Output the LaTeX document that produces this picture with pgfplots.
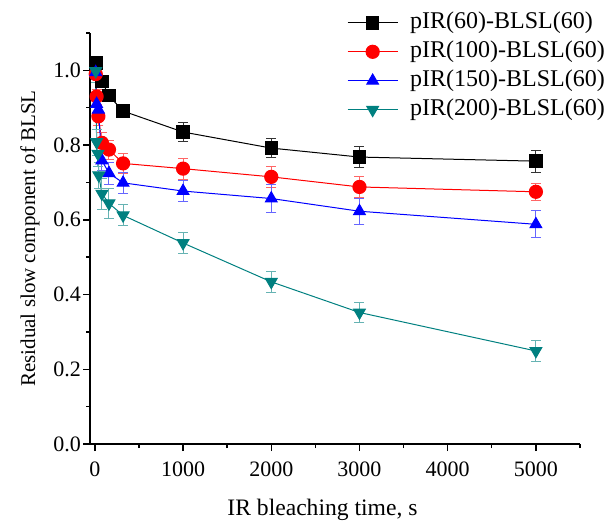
\documentclass[border=0pt]{standalone}
\usepackage{fontspec}
\setmainfont{Liberation Serif}
\usepackage{pgfplots}
\pgfplotsset{compat=1.18}
\definecolor{cteal}{RGB}{0,128,128}
\begin{document}
\begin{tikzpicture}
\begin{axis}[
  width=245pt, height=205.5pt, scale only axis,
  xmin=-55, xmax=5500, ymin=0, ymax=1.1,
  axis lines=left, axis line style={line width=0.8pt, -},
  xtick={0,1000,2000,3000,4000,5000},
  minor xtick={500,1500,2500,3500,4500,5500},
  ytick={0,0.2,0.4,0.6,0.8,1.0},
  minor ytick={0.1,0.3,0.5,0.7,0.9,1.1},
  tick align=outside,
  major tick length=3.5pt, minor tick length=2pt,
  tick style={line width=0.7pt, black},
  xticklabel style={/pgf/number format/1000 sep={}, yshift=-2pt},
  yticklabel style={/pgf/number format/fixed, /pgf/number format/fixed zerofill, /pgf/number format/precision=1, xshift=2.5pt},
  /pgf/number format/assume math mode=true,
  tick label style={font=\fontsize{11}{12}\selectfont},
  xlabel={IR bleaching time, s},
  ylabel={Residual slow component of BLSL},
  xlabel style={at={(axis description cs:0.4745,-0.1606)}, anchor=center, font=\fontsize{11.8}{13}\selectfont},
  ylabel style={at={(axis description cs:-0.1224,0.5)}, anchor=center, font=\fontsize{10.5}{12}\selectfont},
  legend style={at={(0.524,1.055)}, anchor=north west, draw=none, fill=none, inner sep=0pt,
    font=\fontsize{12}{13}\selectfont, row sep=2.5pt, column sep=6pt,
    nodes={inner sep=0pt, text height=9pt, text depth=3pt}},
  legend cell align=left,
  legend image code/.code={\draw[mark repeat=2, mark phase=2, #1] plot coordinates {(0pt,0pt) (12.5pt,0pt) (25pt,0pt)};},
  every axis plot/.append style={line width=0.5pt},
  error bars/error bar style={line width=0.5pt},
  error bars/error mark options={rotate=90, mark size=2.5pt, line width=0.5pt},
  clip=false,
]
\addplot[black, mark=square*, mark size=3.1pt, mark options={solid, fill=black},
  error bars/.cd, y dir=both, y explicit, error bar style={black!80}]
  table[x=t, y=v, y error=e] {
t v e
15 1.020 0.008
80 0.971 0.013
160 0.932 0.013
320 0.891 0.017
1000 0.835 0.025
2000 0.792 0.026
3000 0.768 0.027
5000 0.757 0.029
};
\addlegendentry{pIR(60)-BLSL(60)}
\addplot[red, mark=*, mark size=3.3pt, mark options={solid, fill=red},
  error bars/.cd, y dir=both, y explicit, error bar style={red!60}, error mark options={rotate=90, mark size=2.5pt, red!60}]
  table[x=t, y=v, y error=e] {
t v e
10 0.990 0.015
20 0.930 0.020
40 0.877 0.025
80 0.806 0.029
160 0.788 0.025
320 0.751 0.028
1000 0.737 0.028
2000 0.715 0.027
3000 0.688 0.027
5000 0.675 0.022
};
\addlegendentry{pIR(100)-BLSL(60)}
\addplot[blue, mark=triangle*, mark size=3.4pt, mark options={solid, fill=blue},
  error bars/.cd, y dir=both, y explicit, error bar style={blue!60}, error mark options={rotate=90, mark size=2.5pt, blue!60}]
  table[x=t, y=v, y error=e] {
t v e
10 0.995 0.020
20 0.910 0.025
40 0.895 0.027
80 0.759 0.027
160 0.725 0.029
320 0.699 0.029
1000 0.677 0.029
2000 0.657 0.037
3000 0.623 0.035
5000 0.588 0.036
};
\addlegendentry{pIR(150)-BLSL(60)}
\addplot[cteal, mark=triangle*, mark size=3.4pt, mark options={solid, fill=cteal, rotate=180},
  error bars/.cd, y dir=both, y explicit, error bar style={cteal!60}, error mark options={rotate=90, mark size=2.5pt, cteal!60}]
  table[x=t, y=v, y error=e] {
t v e
10 0.998 0.030
20 0.808 0.035
35 0.777 0.035
45 0.719 0.035
80 0.670 0.042
160 0.644 0.040
320 0.612 0.028
1000 0.538 0.029
2000 0.434 0.029
3000 0.352 0.027
5000 0.249 0.027
};
\addlegendentry{pIR(200)-BLSL(60)}
\end{axis}
\pgfresetboundingbox
\path[use as bounding box] (-45pt,-41.5pt) rectangle (259.5pt,222pt);
\end{tikzpicture}
\end{document}
